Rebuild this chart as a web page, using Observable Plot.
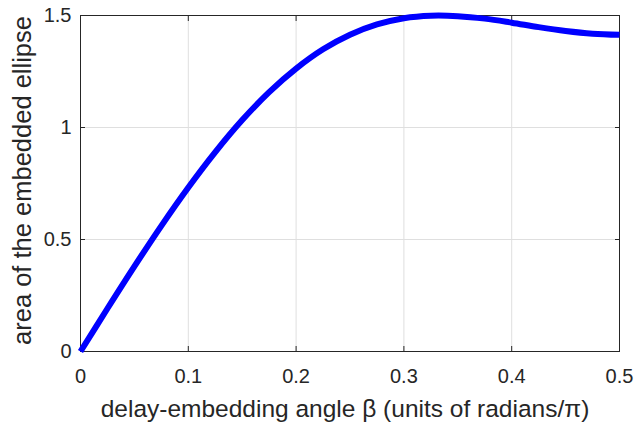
<!DOCTYPE html>
<html><head><meta charset="utf-8">
<script src="https://cdn.jsdelivr.net/npm/d3@7"></script>
<script src="https://cdn.jsdelivr.net/npm/@observablehq/plot@0.6"></script>
<style>body{margin:0;background:#fff}</style>
</head><body><div id="chart"></div>
<script>
const beta = [0, 0.025, 0.05, 0.075, 0.1, 0.125, 0.15, 0.175, 0.2, 0.225, 0.25, 0.275, 0.3, 0.325, 0.35, 0.375, 0.4, 0.425, 0.45, 0.475, 0.5];
const area = [0, 0.192, 0.380, 0.561, 0.732, 0.890, 1.033, 1.158, 1.263, 1.349, 1.414, 1.460, 1.488, 1.499, 1.497, 1.486, 1.468, 1.448, 1.431, 1.419, 1.414];
const xTicks = [0, 0.1, 0.2, 0.3, 0.4, 0.5];
const yTicks = [0, 0.5, 1, 1.5];
const xLabelParts = ["delay-embedding angle ", "β", " (units of radians/", "π", ")"];
const yLabel = "area of the embedded ellipse";

const data = beta.map((b, i) => ({beta: b, area: area[i]}));
const axisColor = "#262626";
const gridColor = "#dfdfdf";
const fmt = d => String(d);

const chart = Plot.plot({
  width: 635, height: 427,
  marginLeft: 80, marginRight: 16, marginTop: 15, marginBottom: 76,
  style: {fontFamily: "'Liberation Sans', Arial, Helvetica, sans-serif", fontSize: "20px", color: "#262626", background: "#fff"},
  x: {domain: [0, 0.5]},
  y: {domain: [0, 1.5]},
  marks: [
    Plot.gridX(xTicks, {stroke: gridColor, strokeOpacity: 1}),
    Plot.gridY(yTicks, {stroke: gridColor, strokeOpacity: 1}),
    Plot.axisX(xTicks, {anchor: "bottom", tickSize: 0, tickPadding: 17, tickFormat: fmt, label: null}),
    Plot.axisY(yTicks, {anchor: "left", tickSize: 0, tickPadding: 9, tickFormat: fmt, label: null}),
    Plot.axisX(xTicks, {anchor: "bottom", tickSize: 5, dy: -5, fill: "none", label: null, stroke: axisColor}),
    Plot.axisX(xTicks, {anchor: "top", tickSize: 5, dy: 5, fill: "none", label: null, stroke: axisColor}),
    Plot.axisY(yTicks, {anchor: "left", tickSize: 5, dx: 5, fill: "none", label: null, stroke: axisColor}),
    Plot.axisY(yTicks, {anchor: "right", tickSize: 5, dx: -5, fill: "none", label: null, stroke: axisColor}),
    Plot.frame({stroke: axisColor}),
    Plot.line(data, {x: "beta", y: "area", stroke: "#0000ff", strokeWidth: 6, curve: "catmull-rom", strokeLinecap: "butt"}),
    Plot.text([xLabelParts.join("")], {text: d => d, frameAnchor: "bottom", textAnchor: "middle", lineAnchor: "middle", dy: 58, dx: -5, fontSize: 24.5, ariaLabel: "x-label"}),
    Plot.text([yLabel], {text: d => d, frameAnchor: "left", textAnchor: "middle", lineAnchor: "middle", rotate: -90, dx: -58, dy: -3, fontSize: 25.5, ariaLabel: "y-label"})
  ]
});

const ns = "http://www.w3.org/2000/svg";
const t = chart.querySelector('[aria-label="x-label"] text');
if (t) {
  t.textContent = "";
  xLabelParts.forEach((s, i) => {
    const ts = document.createElementNS(ns, "tspan");
    ts.textContent = s;
    if (i === 1 || i === 3) {
      ts.setAttribute("font-family", "'Liberation Serif', 'DejaVu Serif', serif");
      ts.setAttribute("font-style", "italic");
    }
    t.appendChild(ts);
  });
}
document.getElementById("chart").appendChild(chart);
</script>
</body></html>
